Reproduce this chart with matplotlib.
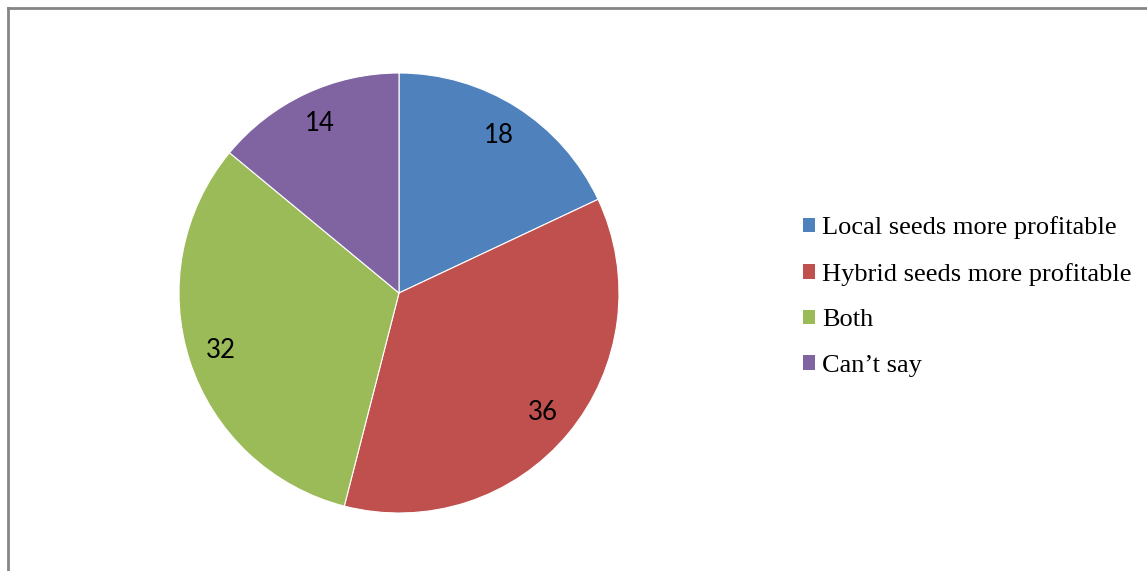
import matplotlib
matplotlib.use("Agg")
import matplotlib.pyplot as plt
from matplotlib.patches import Patch
from matplotlib.lines import Line2D

categories = ["Local seeds more profitable", "Hybrid seeds more profitable", "Both", "Can\u2019t say"]
values = [18, 36, 32, 14]
colors = ["#4F81BD", "#C0504D", "#9BBB59", "#8064A2"]

W, H = 1147, 571
fig = plt.figure(figsize=(W / 100, H / 100), dpi=100)
fig.patch.set_facecolor("white")

cx, cy, r = 399, 293, 220
ax = fig.add_axes([(cx - r) / W, (H - cy - r) / H, 2 * r / W, 2 * r / H])
wedges, texts, autotexts = ax.pie(
    values, colors=colors, startangle=90, counterclock=False,
    autopct=lambda p: f"{p * sum(values) / 100:.0f}", pctdistance=0.85,
    wedgeprops=dict(edgecolor="white", linewidth=0.8),
    textprops=dict(fontsize=18.5, family="Lato", color="black"),
)
ax.set_xlim(-1, 1)
ax.set_ylim(-1, 1)
ax.set_aspect("equal")
ax.axis("off")

handles = [Patch(facecolor=c, edgecolor="none") for c in colors]
fig.legend(handles, categories, loc="center left",
           bbox_to_anchor=(803 / W, (H - 296.5) / H),
           frameon=False, borderaxespad=0, borderpad=0,
           handlelength=0.47, handleheight=0.47, handletextpad=0.25,
           labelspacing=0.89,
           prop=dict(family="Liberation Serif", size=19))

# outer border (top and left visible)
fig.add_artist(Line2D([8 / W, 1.0], [1 - 8 / H, 1 - 8 / H], transform=fig.transFigure,
                      color="#868686", linewidth=2.0))
fig.add_artist(Line2D([8 / W, 8 / W], [0, 1 - 8 / H], transform=fig.transFigure,
                      color="#868686", linewidth=2.0))

fig.savefig("out.png", dpi=100, facecolor="white")
